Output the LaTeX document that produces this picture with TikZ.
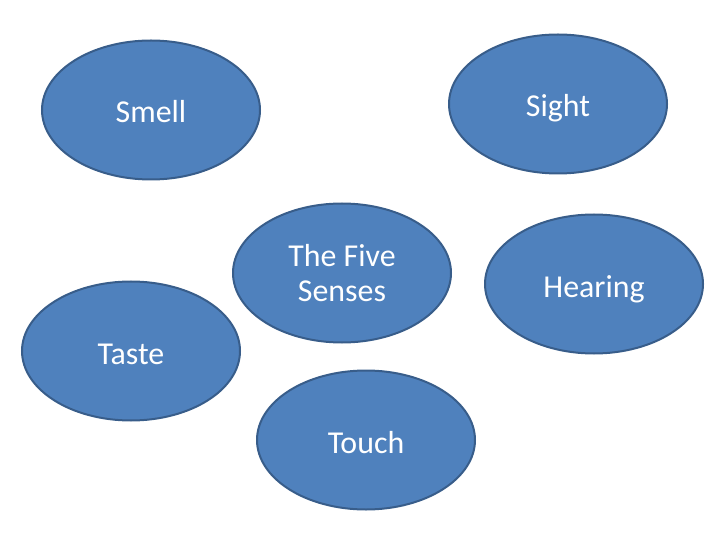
\documentclass[tikz,border=0pt]{standalone}
\usepackage{fontspec}
\setmainfont{Carlito}
\usetikzlibrary{shapes.geometric}
\definecolor{senseblue}{HTML}{4F81BD}
\definecolor{senseedge}{HTML}{385D8A}

\begin{document}
\begin{tikzpicture}[
  x=1bp, y=-1bp,
  every node/.style={font=\fontsize{32}{36}\selectfont, align=center},
  sense/.style={ellipse, draw=senseedge, fill=senseblue, line width=2bp,
                text=white, inner sep=0pt, minimum width=218bp, minimum height=139bp,
                text height=26bp, text depth=0bp}
]
\useasboundingbox (0,0) rectangle (720,540);

\node[sense] (smell) at (151, 110) {Smell};
\node[sense] (sight) at (558, 104) {Sight};
\node[sense, text height=, text depth=] (senses) at (342, 273) {The Five \\ Senses};
\node[sense] (hearing) at (594, 284) {Hearing};
\node[sense] (taste) at (131, 351) {Taste};
\node[sense] (touch) at (366, 440) {Touch};
\end{tikzpicture}
\end{document}
